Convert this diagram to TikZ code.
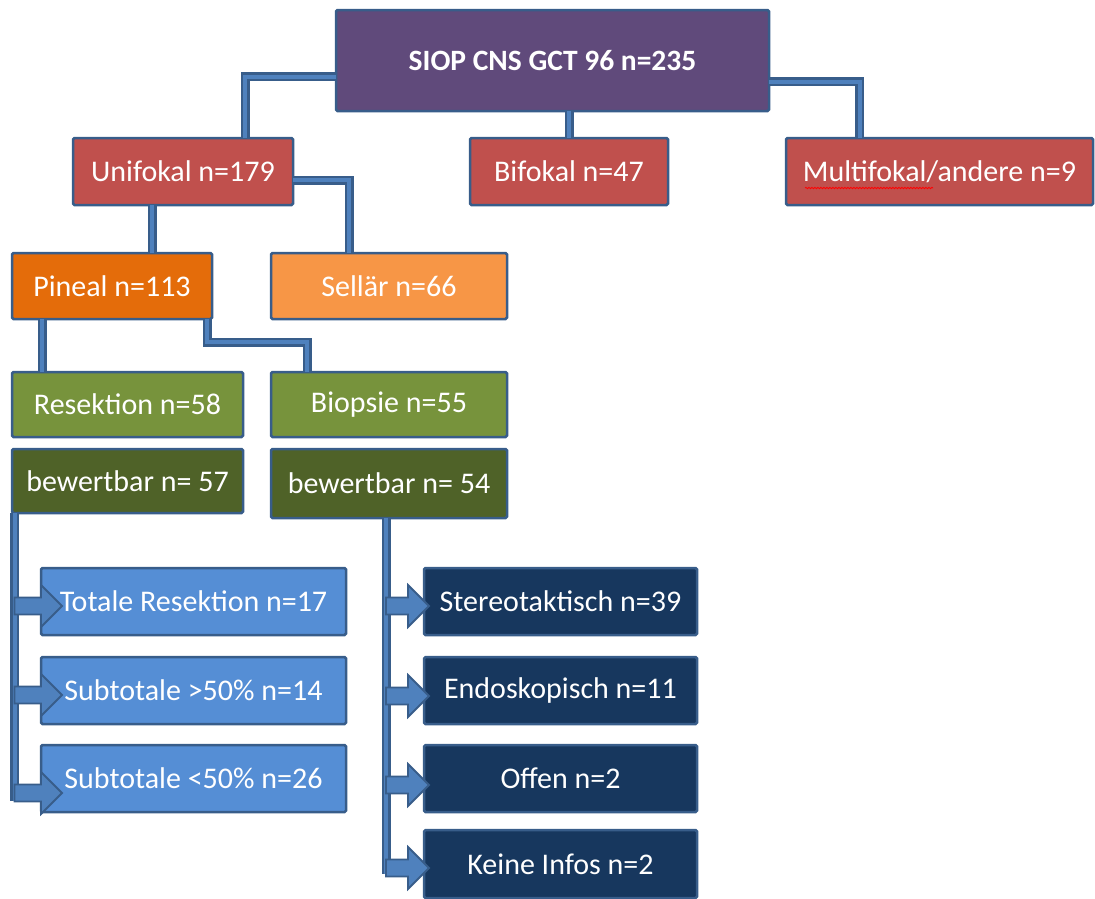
\documentclass[tikz,border=0pt]{standalone}
\usepackage{fontspec}
\setmainfont{Carlito}
\usetikzlibrary{calc,decorations.pathmorphing}
\definecolor{bord}{HTML}{385D8A}
\definecolor{conninner}{HTML}{4F81BD}
\definecolor{cpurple}{HTML}{604A7B}
\definecolor{cred}{HTML}{C0504D}
\definecolor{corange}{HTML}{E46C0A}
\definecolor{clorange}{HTML}{F79646}
\definecolor{cgreen}{HTML}{77933C}
\definecolor{cdgreen}{HTML}{4F6228}
\definecolor{clblue}{HTML}{558ED5}
\definecolor{cnavy}{HTML}{17375E}
\tikzset{
  box/.style={draw=bord, line width=2.5pt, rounded corners=1.5pt, text=white,
    font=\fontsize{30}{34}\selectfont, inner sep=0pt, outer sep=0pt, anchor=north west},
  conn/.style={draw=bord, double=conninner, double distance=4pt, line width=2.5pt},
  barr/.style={draw=bord, fill=conninner, line width=1.8pt, line join=miter}
}
% #1 start coord on trunk, #2 shaft length, #3 head length
\newcommand{\blockarrow}[3]{%
  \draw[barr] ([yshift=8.5pt]#1) -- ++(#2,0) -- ++(0,-12.5) -- ++(#3,21) -- ++(-#3,21) -- ++(0,-12.5) -- ++(-#2,0) -- cycle;}
\begin{document}
\begin{tikzpicture}[x=1pt,y=-1pt]
\useasboundingbox (0,0) rectangle (1095,898);
% boxes
\node[box, fill=cpurple, minimum width=433pt, minimum height=101pt, font=\fontsize{29.5}{33}\selectfont\bfseries] (root) at (336,10) {SIOP CNS GCT 96 n=235};
\node[box, fill=cred, minimum width=220pt, minimum height=67pt] (uni) at (73,138) {Unifokal n=179};
\node[box, fill=cred, minimum width=198pt, minimum height=67pt] (bif) at (470,138) {Bifokal n=47};
\node[box, fill=cred, minimum width=307pt, minimum height=67pt] (mul) at (786,138) {Multifokal/andere n=9};
\node[box, fill=corange, minimum width=200pt, minimum height=66pt] (pin) at (12,253) {Pineal n=113};
\node[box, fill=clorange, minimum width=236pt, minimum height=66pt] (sel) at (271,253) {Sellär n=66};
\node[box, fill=cgreen, minimum width=231pt, minimum height=65pt] (res) at (12,372) {Resektion n=58};
\node[box, fill=cgreen, minimum width=236pt, minimum height=65pt] (bio) at (271,372) {Biopsie n=55};
\node[box, fill=cdgreen, minimum width=231pt, minimum height=64pt] (bew57) at (12,449) {bewertbar n= 57};
\node[box, fill=cdgreen, minimum width=236pt, minimum height=69pt] (bew54) at (271,449) {bewertbar n= 54};
\node[box, fill=clblue, minimum width=305pt, minimum height=67pt] (tot) at (41,568) {Totale Resektion n=17};
\node[box, fill=clblue, minimum width=305pt, minimum height=67pt] (sub1) at (41,657) {Subtotale >50\% n=14};
\node[box, fill=clblue, minimum width=305pt, minimum height=67pt] (sub2) at (41,745) {Subtotale <50\% n=26};
\node[box, fill=cnavy, minimum width=273pt, minimum height=67pt] (ste) at (424,568) {Stereotaktisch n=39};
\node[box, fill=cnavy, minimum width=273pt, minimum height=67pt] (end) at (424,657) {Endoskopisch n=11};
\node[box, fill=cnavy, minimum width=273pt, minimum height=67pt] (off) at (424,745) {Offen n=2};
\node[box, fill=cnavy, minimum width=273pt, minimum height=68pt] (kei) at (424,830) {Keine Infos n=2};
% spell-check underline
\draw[red, line width=0.8pt, decorate, decoration={snake, amplitude=0.7pt, segment length=3pt}] (805,188) -- (933,188);
% connectors
\draw[conn] ([yshift=-16pt]root.west) -| ([xshift=62pt]uni.north);
\draw[conn] (bif.north |- root.south) -- (bif.north);
\draw[conn] ([yshift=-21pt]root.east) -| ([xshift=-80pt]mul.north);
\draw[conn] ([yshift=-8.5pt]uni.east) -| ([xshift=-40pt]sel.north);
\draw[conn] ([xshift=-31pt]uni.south) -- ([xshift=40pt]pin.north);
\draw[conn] ([xshift=-70pt]pin.south) -- ([xshift=-85.5pt]res.north);
\draw[conn] ([xshift=95pt]pin.south) -- ++(0,23) -| ([xshift=-82pt]bio.north);
\coordinate (t57) at (14.5,801);
\coordinate (t54) at (386,874);
\draw[conn] ([xshift=2.5pt]bew57.south west) -- (t57);
\draw[conn] ([xshift=-3pt]bew54.south) -- (t54);
% block arrows
\coordinate (a1) at (14.5,606);
\coordinate (a2) at (14.5,695);
\coordinate (a3) at (14.5,793);
\coordinate (b1) at (386,606);
\coordinate (b2) at (386,696);
\coordinate (b3) at (386,785);
\coordinate (b4) at (386,868);
\blockarrow{a1}{26.5}{21}
\blockarrow{a2}{26.5}{21}
\blockarrow{a3}{26.5}{21}
\blockarrow{b1}{22}{21}
\blockarrow{b2}{22}{21}
\blockarrow{b3}{22}{21}
\blockarrow{b4}{22}{21}
\end{tikzpicture}
\end{document}
